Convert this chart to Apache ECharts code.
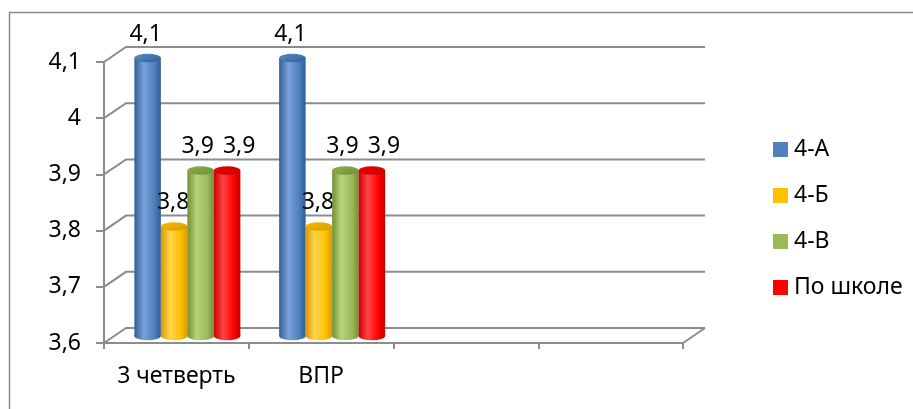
<!DOCTYPE html>
<html>
<head>
<meta charset="utf-8">
<script src="https://cdn.jsdelivr.net/npm/echarts@6/dist/echarts.min.js"></script>
<style>
  html, body { margin: 0; padding: 0; background: #fff; }
  #chart { width: 913px; height: 409px; }
</style>
</head>
<body>
<div id="chart"></div>
<script>
const categories = ['3 четверть', 'ВПР', '', '']
const seriesNames = ['4-А', '4-Б', '4-В', 'По школе']
const values4A = [4.1, 4.1]
const values4B = [3.8, 3.8]
const values4V = [3.9, 3.9]
const valuesSchool = [3.9, 3.9]
const yTicks = [3.6, 3.7, 3.8, 3.9, 4.0, 4.1]

const FONT = '"Noto Sans", sans-serif'
const FS = 23
const DEPTH_X = 22
const DEPTH_Y = 15
const BAR_W = 26.5
// small sideways nudge of data labels so neighbours don't collide
const labelShift = [-2, -1, -3, 12]

// base, dark edge, light middle, top cap
const palette = [
  ['#4F81BD', '#2F5E97', '#78A2D8', '#5D8CC6'],
  ['#FFC000', '#D99A00', '#FFD54D', '#F5BA00'],
  ['#9BBB59', '#738F36', '#B6D479', '#8FAF4E'],
  ['#FF0000', '#C80000', '#FF4545', '#EE0000']
]

function fmt(v) {
  return String(+(+v).toFixed(1)).replace('.', ',')
}

function cylGradient(c) {
  return new echarts.graphic.LinearGradient(0, 0, 1, 0, [
    { offset: 0, color: c[1] },
    { offset: 0.35, color: c[2] },
    { offset: 0.75, color: c[0] },
    { offset: 1, color: c[1] }
  ])
}

function barSeries(name, data, idx) {
  const c = palette[idx]
  return {
    name: name,
    type: 'custom',
    itemStyle: { color: c[0] },
    z: 3,
    data: data.map((v, i) => [i, v]),
    renderItem: function (params, api) {
      const cat = api.value(0)
      const val = api.value(1)
      const top = api.coord([cat, val])
      const base = api.coord([cat, yTicks[0]])
      const cx = top[0] + (idx - 1.5) * BAR_W + DEPTH_X / 2
      const yTop = top[1] - 4
      const yBot = base[1] - 7
      const r = BAR_W / 2
      return {
        type: 'group',
        children: [
          {
            type: 'circle',
            x: cx, y: yBot, scaleY: 0.32,
            shape: { cx: 0, cy: 0, r: r },
            style: { fill: cylGradient(c) }
          },
          {
            type: 'rect',
            shape: { x: cx - r, y: yTop, width: BAR_W, height: yBot - yTop },
            style: { fill: cylGradient(c) }
          },
          {
            type: 'circle',
            x: cx, y: yTop, scaleY: 0.32,
            shape: { cx: 0, cy: 0, r: r },
            style: {
              fill: new echarts.graphic.LinearGradient(0, 0, 1, 1, [
                { offset: 0, color: c[3] },
                { offset: 1, color: c[1] }
              ])
            }
          },
          {
            type: 'text',
            x: cx + labelShift[idx], y: yTop - 24,
            style: {
              text: fmt(val),
              fill: '#000',
              font: FS + 'px ' + FONT,
              align: 'center',
              verticalAlign: 'middle'
            }
          }
        ]
      }
    }
  }
}

// back wall, side wall and floor lines of the 3-D frame
const frameSeries = {
  name: 'frame',
  type: 'custom',
  z: 1,
  silent: true,
  data: yTicks.map(t => [0, t]),
  renderItem: function (params, api) {
    const cs = params.coordSys
    const y = api.coord([0, api.value(1)])[1]
    const left = cs.x
    const right = cs.x + cs.width
    const style = { stroke: '#8C8C8C', lineWidth: 2, fill: null }
    const children = [{
      type: 'polyline',
      shape: { points: [[left, y], [left + DEPTH_X, y - DEPTH_Y], [right + DEPTH_X, y - DEPTH_Y]] },
      style: style
    }]
    if (params.dataIndex === 0) {
      children.push({
        type: 'line',
        shape: { x1: right, y1: y, x2: right + DEPTH_X, y2: y - DEPTH_Y },
        style: style
      })
    }
    return { type: 'group', children: children }
  }
}

const chart = echarts.init(document.getElementById('chart'))
chart.setOption({
  animation: false,
  backgroundColor: '#fff',
  graphic: [{
    type: 'rect',
    shape: { x: 9.5, y: 12.5, width: 1000, height: 1000 },
    style: { fill: null, stroke: '#8C8C8C', lineWidth: 1.5 }
  }],
  grid: { left: 104, right: 230, top: 62, bottom: 66 },
  legend: {
    data: seriesNames,
    orient: 'vertical',
    left: 768,
    top: 133,
    itemWidth: 15,
    itemHeight: 15,
    itemGap: 23,
    icon: 'rect',
    textStyle: { fontSize: FS, fontFamily: FONT, color: '#000', padding: [0, 0, 0, 1] }
  },
  xAxis: {
    type: 'category',
    data: categories,
    axisLine: { lineStyle: { color: '#8C8C8C', width: 2 } },
    axisTick: { show: true, interval: 0, length: 6, lineStyle: { color: '#8C8C8C', width: 2 } },
    axisLabel: { interval: 0, fontSize: FS, fontFamily: FONT, color: '#000', margin: 22 },
    splitLine: { show: false }
  },
  yAxis: {
    type: 'value',
    min: 3.6,
    max: 4.1,
    interval: 0.1,
    axisLine: { show: true, lineStyle: { color: '#8C8C8C', width: 2 } },
    axisTick: { show: true, length: 8, lineStyle: { color: '#8C8C8C', width: 2 } },
    axisLabel: { fontSize: FS, fontFamily: FONT, color: '#000', margin: 23, formatter: fmt },
    splitLine: { show: false }
  },
  series: [
    frameSeries,
    barSeries(seriesNames[0], values4A, 0),
    barSeries(seriesNames[1], values4B, 1),
    barSeries(seriesNames[2], values4V, 2),
    barSeries(seriesNames[3], valuesSchool, 3)
  ]
})
</script>
</body>
</html>
